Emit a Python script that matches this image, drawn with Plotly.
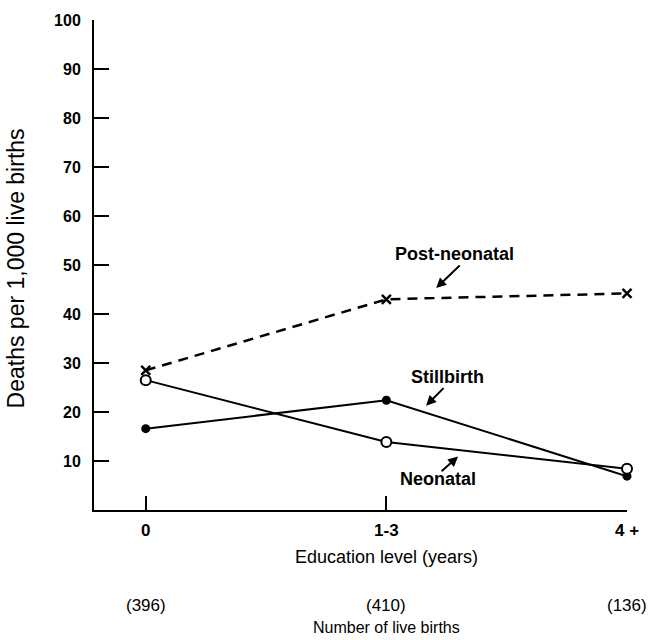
import plotly.graph_objects as go

# Education level categories (x positions 0, 1, 2)
education = ["0", "1-3", "4 +"]
live_births = ["(396)", "(410)", "(136)"]

# Deaths per 1,000 live births
post_neonatal = [28.5, 43.0, 44.2]
stillbirth = [16.6, 22.4, 6.9]
neonatal = [26.5, 13.9, 8.4]

y_ticks = [10, 20, 30, 40, 50, 60, 70, 80, 90, 100]

FONT = "Arial, Liberation Sans, Helvetica, sans-serif"
xs = list(range(len(education)))

fig = go.Figure()

fig.add_trace(go.Scatter(
    x=xs, y=post_neonatal, mode="lines+markers", name="Post-neonatal",
    line=dict(color="black", width=2.5, dash="10px,7px"),
    marker=dict(symbol="x-thin", size=9, line=dict(color="black", width=2.5)),
    cliponaxis=False,
))
fig.add_trace(go.Scatter(
    x=xs, y=stillbirth, mode="lines+markers", name="Stillbirth",
    line=dict(color="black", width=2),
    marker=dict(symbol="circle", size=9, color="black"),
    cliponaxis=False,
))
fig.add_trace(go.Scatter(
    x=xs, y=neonatal, mode="lines+markers", name="Neonatal",
    line=dict(color="black", width=2),
    marker=dict(symbol="circle", size=10, color="white",
                line=dict(color="black", width=2)),
    cliponaxis=False,
))

annotations = []

# Series labels with pointer arrows
labels = [
    ("Post-neonatal", 1.285, 52.2, 1.207, 45.3, 25, -24),
    ("Stillbirth", 1.256, 27.1, 1.165, 21.3, 19, -19),
    ("Neonatal", 1.215, 6.3, 1.298, 10.9, -18, 16),
]
for text, tx, ty, hx, hy, ax, ay in labels:
    annotations.append(dict(
        x=tx, y=ty, xref="x", yref="y", text="<b>%s</b>" % text, showarrow=False,
        font=dict(family=FONT, size=18, color="black"),
    ))
    annotations.append(dict(
        x=hx, y=hy, xref="x", yref="y", text="", showarrow=True,
        ax=ax, ay=ay, arrowhead=2, arrowsize=1, arrowwidth=2,
        arrowcolor="black", standoff=0, startstandoff=0,
    ))

# Axis titles
annotations.append(dict(
    x=0, y=0.493, xref="paper", yref="paper", xshift=-78,
    text="Deaths per 1,000 live births", textangle=-90, showarrow=False,
    xanchor="center", yanchor="middle",
    font=dict(family=FONT, size=23, color="black"),
))
annotations.append(dict(
    x=1, y=-0.096, xref="x", yref="paper",
    text="Education level (years)", showarrow=False,
    xanchor="center", yanchor="middle",
    font=dict(family=FONT, size=18, color="black"),
))
# Number of live births row
for i, n in enumerate(live_births):
    annotations.append(dict(
        x=xs[i], y=-0.195, xref="x", yref="paper", text=n, showarrow=False,
        xanchor="center", yanchor="middle",
        font=dict(family=FONT, size=17, color="black"),
    ))
annotations.append(dict(
    x=1, y=-0.240, xref="x", yref="paper",
    text="Number of live births", showarrow=False,
    xanchor="center", yanchor="middle",
    font=dict(family=FONT, size=16, color="black"),
))

fig.update_layout(
    width=651, height=640,
    margin=dict(l=94, r=21, t=17, b=130),
    plot_bgcolor="white", paper_bgcolor="white",
    showlegend=False,
    annotations=annotations,
    font=dict(family=FONT, color="black"),
)

fig.update_xaxes(
    range=[-0.215, 2.0], tickvals=xs,
    ticktext=["<b>%s</b>" % t for t in education],
    showgrid=False, zeroline=False,
    showline=True, linecolor="black", linewidth=2,
    ticks="inside", ticklen=14, tickwidth=2, tickcolor="black",
    ticklabelstandoff=4,
    tickfont=dict(family=FONT, size=17, color="black"),
)
fig.update_yaxes(
    range=[0, 100], tickvals=y_ticks,
    ticktext=["<b>%d</b>" % v for v in y_ticks],
    showgrid=False, zeroline=False,
    showline=True, linecolor="black", linewidth=2,
    ticks="inside", ticklen=15, tickwidth=2, tickcolor="black",
    ticklabelstandoff=8,
    tickfont=dict(family=FONT, size=16, color="black"),
)

fig.write_html("out.html")
